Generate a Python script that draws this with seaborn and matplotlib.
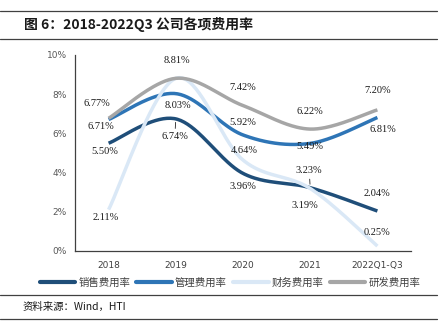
import numpy as np
import pandas as pd
import matplotlib
matplotlib.use('Agg')
import matplotlib.pyplot as plt
from matplotlib.lines import Line2D
import seaborn as sns

categories = ['2018', '2019', '2020', '2021', '2022Q1-Q3']
series_names = ['销售费用率', '管理费用率', '财务费用率', '研发费用率']
sales = [5.50, 6.74, 3.96, 3.23, 2.04]
admin = [6.71, 8.03, 5.92, 5.49, 6.81]
finance = [2.11, 8.81, 4.64, 3.19, 0.25]
rnd = [6.77, 8.81, 7.42, 6.22, 7.20]
colors = ['#1F4E79', '#2E75B6', '#DAE8F6', '#A6A6A6']

# label offsets (pixels) per series per point; None = no label
label_offsets = {
    '销售费用率': [(-4, -8), (-1, -18), (0, -13), (-1, 17), (0, 18)],
    '管理费用率': [(-8, -7), (2, -12), (0, 12), (0, -3), (5, -12)],
    '财务费用率': [(-3, -8), None, (1, 10), (-5, -17), (0, 14)],
    '研发费用率': [(-12, 15), (1, 18), (0, 18), (0, 18), (0, 19)],
}
leaders = {('销售费用率', 1), ('销售费用率', 3)}

sns.set_style('white')
plt.rcParams['font.family'] = ['DejaVu Sans']


def smooth(y, n=40):
    """Excel-like Catmull-Rom smoothing through the data points."""
    x = np.arange(len(y), dtype=float)
    y = np.asarray(y, dtype=float)
    P = np.column_stack([x, y])
    Pext = np.vstack([P[0], P, P[-1]])
    out = []
    for i in range(len(P) - 1):
        p0, p1, p2, p3 = Pext[i], Pext[i + 1], Pext[i + 2], Pext[i + 3]
        c1 = p1 + (p2 - p0) / 6.0
        c2 = p2 - (p3 - p1) / 6.0
        t = np.linspace(0, 1, n, endpoint=(i == len(P) - 2))[:, None]
        b = ((1 - t) ** 3) * p1 + 3 * ((1 - t) ** 2) * t * c1 + 3 * (1 - t) * t ** 2 * c2 + t ** 3 * p2
        out.append(b)
    return np.vstack(out)


data = {'销售费用率': sales, '管理费用率': admin, '财务费用率': finance, '研发费用率': rnd}
frames = []
for name in series_names:
    s = smooth(data[name])
    frames.append(pd.DataFrame({'x': s[:, 0], 'y': s[:, 1], 'series': name, 'order': np.arange(len(s))}))
df = pd.concat(frames, ignore_index=True)

fig = plt.figure(figsize=(4.48, 3.23), dpi=100)
ax = fig.add_axes([75 / 448, 1 - 251 / 323, 336 / 448, 196 / 323])

sns.lineplot(data=df, x='x', y='y', hue='series', hue_order=series_names,
             palette=colors, sort=False, estimator=None, units='series',
             linewidth=2.5, ax=ax, legend=False)
for line in ax.lines:
    line.set_solid_capstyle('butt')

ax.set_xlim(-0.5, len(categories) - 0.5)
ax.set_ylim(0, 10)
ax.set_yticks(range(0, 11, 2))
ax.set_yticklabels([f'{v}%' for v in range(0, 11, 2)])
ax.set_xticks(np.arange(-0.5, len(categories), 1.0))
ax.set_xticklabels([])
ax.set_xticks(np.arange(len(categories)), minor=True)
ax.set_xticklabels(categories, minor=True)
ax.tick_params(axis='x', which='major', direction='out', length=3, color='#404040', width=0.8)
ax.tick_params(axis='x', which='minor', length=0, pad=7, labelsize=6.5, labelcolor='#404040')
ax.tick_params(axis='y', direction='out', length=3, color='#404040', width=0.8,
               labelsize=6.5, labelcolor='#595959', pad=3)
ax.set_xlabel('')
ax.set_ylabel('')
for sp in ['top', 'right']:
    ax.spines[sp].set_visible(False)
for sp in ['left', 'bottom']:
    ax.spines[sp].set_color('#404040')
    ax.spines[sp].set_linewidth(0.9)

for name in series_names:
    vals = data[name]
    for i, v in enumerate(vals):
        off = label_offsets[name][i]
        if off is None:
            continue
        kw = {}
        if (name, i) in leaders:
            kw['arrowprops'] = dict(arrowstyle='-', color='#222222', lw=0.6, shrinkA=0.5, shrinkB=2.5)
        ax.annotate(f'{v:.2f}%', xy=(i, v), xytext=off, textcoords='offset pixels',
                    ha='center', va='center', fontsize=7.5, family='Liberation Serif',
                    color='#1a1a1a', **kw)

handles = [Line2D([], [], color=c, lw=3) for c in colors]
leg = fig.legend(handles, series_names, loc='center', bbox_to_anchor=(230 / 448, 1 - 283 / 323),
                 ncol=4, frameon=False, handlelength=3.4, handletextpad=0.3, columnspacing=0.6,
                 prop={'family': ['Noto Sans CJK SC', 'DejaVu Sans'], 'size': 7.5})
for t in leg.get_texts():
    t.set_color('#404040')

fig.text(24 / 448, 1 - 25 / 323, '图 6：2018-2022Q3 公司各项费用率', ha='left', va='center',
         fontsize=10, fontweight='bold', family=['Noto Sans CJK SC', 'DejaVu Sans'], color='#1a1a1a')
fig.text(23 / 448, 1 - 307 / 323, '资料来源：Wind，HTI', ha='left', va='center',
         fontsize=7.5, family=['Noto Sans CJK SC', 'DejaVu Sans'], color='#1a1a1a')

for yy in [11, 39, 295, 319]:
    fig.add_artist(Line2D([0, 437 / 448], [1 - yy / 323] * 2, color='#404040', lw=0.9))

fig.savefig('out.png', dpi=100)
